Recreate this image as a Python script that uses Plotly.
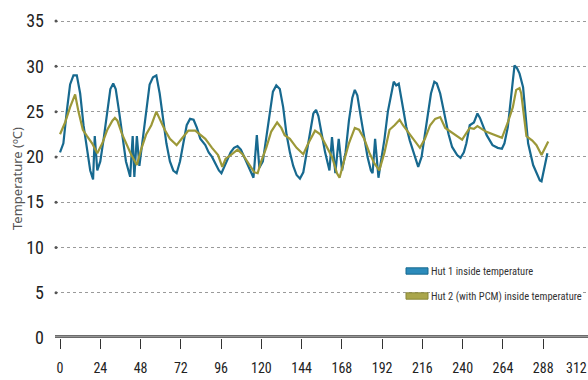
import plotly.graph_objects as go

# ---- data (hours, °C) ----
hut1_hours = [0, 2, 4, 6, 8, 10, 12, 14, 16, 18, 19.7, 20.7, 22.2, 24, 26, 28, 30, 31.7, 33.2, 35.2,
              37.3, 39.3, 41.8, 43.3, 44.3, 45.8, 47.3, 49.3, 51.4, 53.4, 55.4, 57.4, 59.4, 61.4, 63.4,
              65.5, 67.5, 69.5, 71.5, 73.5, 75.5, 77.5, 79.6, 81.6, 83.6, 86.6, 88.6, 90.6, 92.7, 94.7,
              96.2, 97.7, 99.7, 101.7, 103.7, 105.8, 107.8, 109.8, 111.8, 113.8, 115.3, 117.3, 118.8,
              120.9, 122.9, 124.9, 126.9, 128.9, 131, 133, 135, 137, 139, 141, 143, 145, 147, 149, 151,
              152.6, 154, 156, 158, 160.6, 162.1, 164.1, 166.1, 168.1, 170.2, 172.2, 174.2, 175.7, 177.2,
              179.2, 181.3, 183.3, 185.3, 186.3, 187.8, 189.8, 191.3, 193.4, 195.4, 197.4, 198.9, 200.4,
              201.9, 203.4, 206.4, 208.5, 210.5, 213.5, 215.5, 217.5, 219.6, 221.1, 223.1, 224.6, 226.6,
              229.6, 231.6, 233.7, 236.7, 238.7, 240.7, 242.2, 244.2, 246.7, 248.8, 250.3, 251.8, 254.3,
              257.8, 260.9, 263.4, 264.9, 266.9, 268.9, 270.9, 272.4, 273.9, 276, 277.5, 279, 282, 284,
              286, 287, 289, 290.5]
hut1_temp = [20.5, 21.5, 25, 28, 29, 29, 27, 23.5, 21, 18.5, 17.5, 22.3, 18.5, 19.5, 22, 25, 27.5, 28.1, 27.5, 25,
             22, 19.5, 17.8, 22.3, 17.8, 22.3, 19, 22, 25.5, 28, 28.8, 29, 27, 24, 21.5,
             19.5, 18.5, 18.2, 19.5, 21.5, 23.5, 24.2, 24.1, 23.2, 22, 21.3, 20.5, 20, 19.2, 18.5,
             18.2, 18.8, 19.8, 20.5, 21, 21.2, 20.8, 20, 19, 18.2, 17.7, 22.4, 18.8,
             19.5, 22, 25, 27.2, 27.9, 27.5, 25.5, 22.5, 20.5, 19, 18, 17.6, 18.3, 20.5, 23, 24.8,
             25.2, 24.5, 22.5, 20.5, 18.5, 22.2, 18.2, 22, 18.5, 20.5, 24, 26.5, 27.4, 26.8,
             24.5, 22, 20, 18.5, 18.2, 22, 17.7, 19.5, 22, 25, 27, 28.3, 27.9,
             28.1, 26.5, 23.3, 21.8, 20.7, 18.9, 20, 22.5, 25.5, 27, 28.3, 28.1, 27,
             24.4, 22.5, 21.1, 20.2, 19.9, 20.5, 21.5, 23.5, 23.8, 24.8, 24.3, 23.5, 22.4,
             21.3, 21, 20.9, 21.5, 23.3, 27, 30.1, 29.8, 29.2, 27.7, 24.5, 21.5, 19.1, 18.3,
             17.4, 17.3, 19, 20.4]

hut2_hours = [0, 3, 6, 9, 11, 13.6, 16.1, 19.1, 22.2, 25.2, 28.2, 31.2, 32.7, 34.2, 36.8, 39.3, 42.3, 45.8,
              48.3, 51.4, 54.4, 57.4, 60.4, 62.4, 65.5, 69.5, 72.5, 76.5, 80.6, 83.6, 86.6, 90.6, 94.2,
              96.7, 98.7, 101.7, 105.8, 108.8, 112.8, 115.8, 117.8, 119.9, 122.9, 125.9, 129.4, 131.9,
              133.9, 137, 141, 145, 148, 152, 155.1, 159.1, 162.1, 165.1, 166.6, 169.2, 172.2, 175.7,
              178.2, 181.3, 184.3, 187.3, 190.3, 193.4, 196.4, 199.4, 202.4, 204.4, 206.4, 210.5, 214.5,
              217.5, 220.6, 223.6, 226.6, 229.6, 234.7, 239.7, 241.7, 244.2, 246.7, 248.8, 253.8, 258.8,
              263.4, 266.9, 269.9, 271.9, 273.9, 274.9, 276.9, 278, 281.5, 284, 287, 291]
hut2_temp = [22.5, 23.8, 25.5, 26.9, 25, 23, 22.3, 21.5, 20.4, 21.5, 23, 24, 24.3, 24, 22.6, 21.5, 20.3, 19.1,
             20.8, 22.5, 23.5, 25, 23.8, 23, 22, 21.3, 22, 22.9, 22.9, 22.5, 22, 21, 20.2,
             18.9, 19.8, 20.2, 20.8, 20.3, 19.2, 18.3, 18.2, 19.5, 21, 22.8, 23.8, 23.2,
             22.4, 22, 21, 20.3, 21.5, 22.9, 22.5, 21.1, 20, 18.2, 17.7, 19.5, 21.5, 23.2,
             23, 22, 20.5, 19.3, 18.5, 20.5, 23, 23.5, 24.1, 23.5, 23, 22, 21,
             22, 23.5, 24.2, 24.4, 23.2, 22.5, 21.9, 22.5, 23.2, 23.1, 23.4, 22.8, 22.4,
             22.1, 23.8, 25.5, 27.4, 27.6, 27, 23.5, 22.3, 21.8, 21.3, 20.2, 21.7]

x_ticks = [0, 24, 48, 72, 96, 120, 144, 168, 192, 216, 240, 264, 288, 312]
y_ticks = [0, 5, 10, 15, 20, 25, 30, 35]
series_names = ["Hut 1 inside temperature", "Hut 2 (with PCM) inside temperature"]

BLUE = "#17698f"
OLIVE = "#9c9838"
X_MIN, X_MAX = -3, 314.7
Y_MAX = 35.12
COND = "Roboto Condensed, DejaVu Sans Condensed, sans-serif"
PLOT_H = 318

fig = go.Figure()

# left-end dots of the gridlines
fig.add_trace(go.Scatter(x=[X_MIN + 0.6] * (len(y_ticks) - 1), y=y_ticks[1:], mode="markers",
                         marker=dict(size=3, color="#555"), cliponaxis=False,
                         hoverinfo="skip", showlegend=False))
# dots at the ends of the x ticks
fig.add_trace(go.Scatter(x=x_ticks, y=[-1.15] * len(x_ticks), mode="markers",
                         marker=dict(size=4.5, color="#222"), cliponaxis=False,
                         hoverinfo="skip", showlegend=False))

fig.add_trace(go.Scatter(x=hut1_hours, y=hut1_temp, mode="lines", name=series_names[0],
                         line=dict(color=BLUE, width=2.2), showlegend=False))
fig.add_trace(go.Scatter(x=hut2_hours, y=hut2_temp, mode="lines", name=series_names[1],
                         line=dict(color=OLIVE, width=2.2), showlegend=False))

# thick base bar along y = 0
fig.add_shape(type="line", xref="x", yref="y", x0=X_MIN, x1=X_MAX, y0=0, y1=0,
              line=dict(color="#6a6a6a", width=6), layer="above")
fig.add_shape(type="line", xref="x", yref="y", x0=X_MIN, x1=X_MAX, y0=0.17, y1=0.17,
              line=dict(color="#9a9a9a", width=1), layer="above")

# last tick label at the right edge
fig.add_annotation(xref="paper", yref="paper", x=1, y=-(368 - 338) / PLOT_H, text=str(x_ticks[-1]),
                   showarrow=False, xanchor="right", yanchor="middle", borderpad=0,
                   font=dict(family=COND, size=14, color="#222"))

# manual legend (pixel rows 271 and 296; plot bottom at 338)
legend_rows = [((338 - 271) / PLOT_H, "#2c8bbb", "#17698f", series_names[0]),
               ((338 - 296) / PLOT_H, "#aaa64c", "#8a8736", series_names[1])]
for yp, fill, edge, label in legend_rows:
    fig.add_annotation(xref="paper", yref="paper", x=(430 - 55) / 533, y=yp, text=label,
                       showarrow=False, xanchor="left", yanchor="middle", bgcolor="white",
                       borderpad=0, font=dict(family=COND, size=10.5, color="#333"))
    fig.add_shape(type="rect", xref="paper", yref="paper",
                  x0=(406 - 55) / 533, x1=(428 - 55) / 533, y0=yp - 0.010, y1=yp + 0.010,
                  fillcolor=fill, line=dict(color=edge, width=1), layer="above")

# y-axis title
fig.add_annotation(xref="paper", yref="paper", x=(17 - 55) / 533, y=0.5, text="Temperature (ºC)",
                   textangle=-90, showarrow=False, xanchor="center", yanchor="middle",
                   font=dict(family="Noto Sans, Open Sans, sans-serif", size=13, color="#555"))

fig.update_layout(
    width=588, height=380,
    margin=dict(l=55, r=0, t=20, b=42),
    paper_bgcolor="white", plot_bgcolor="white",
    showlegend=False,
    xaxis=dict(range=[X_MIN, X_MAX], tickvals=x_ticks[:-1], ticktext=[str(v) for v in x_ticks[:-1]],
               showgrid=False, zeroline=False, showline=False,
               ticks="outside", ticklen=10, tickwidth=1, tickcolor="#333",
               ticklabelstandoff=7,
               tickfont=dict(family=COND, size=14, color="#222")),
    yaxis=dict(range=[0, Y_MAX], tickvals=y_ticks, ticktext=[str(v) for v in y_ticks],
               showgrid=True, gridcolor="#9a9a9a", gridwidth=1, griddash="dot",
               zeroline=False, showline=False, ticks="", ticklabelstandoff=10,
               tickfont=dict(family=COND, size=18, color="#222")),
)
# tick mark for the last position (label drawn by the annotation above)
fig.add_shape(type="line", xref="x", yref="y", x0=x_ticks[-1], x1=x_ticks[-1], y0=0, y1=-1.1,
              line=dict(color="#333", width=1), layer="below")

fig.write_html("out.html", config={"displayModeBar": False},
               post_script="document.body.style.margin='0';document.body.style.overflow='hidden';")
